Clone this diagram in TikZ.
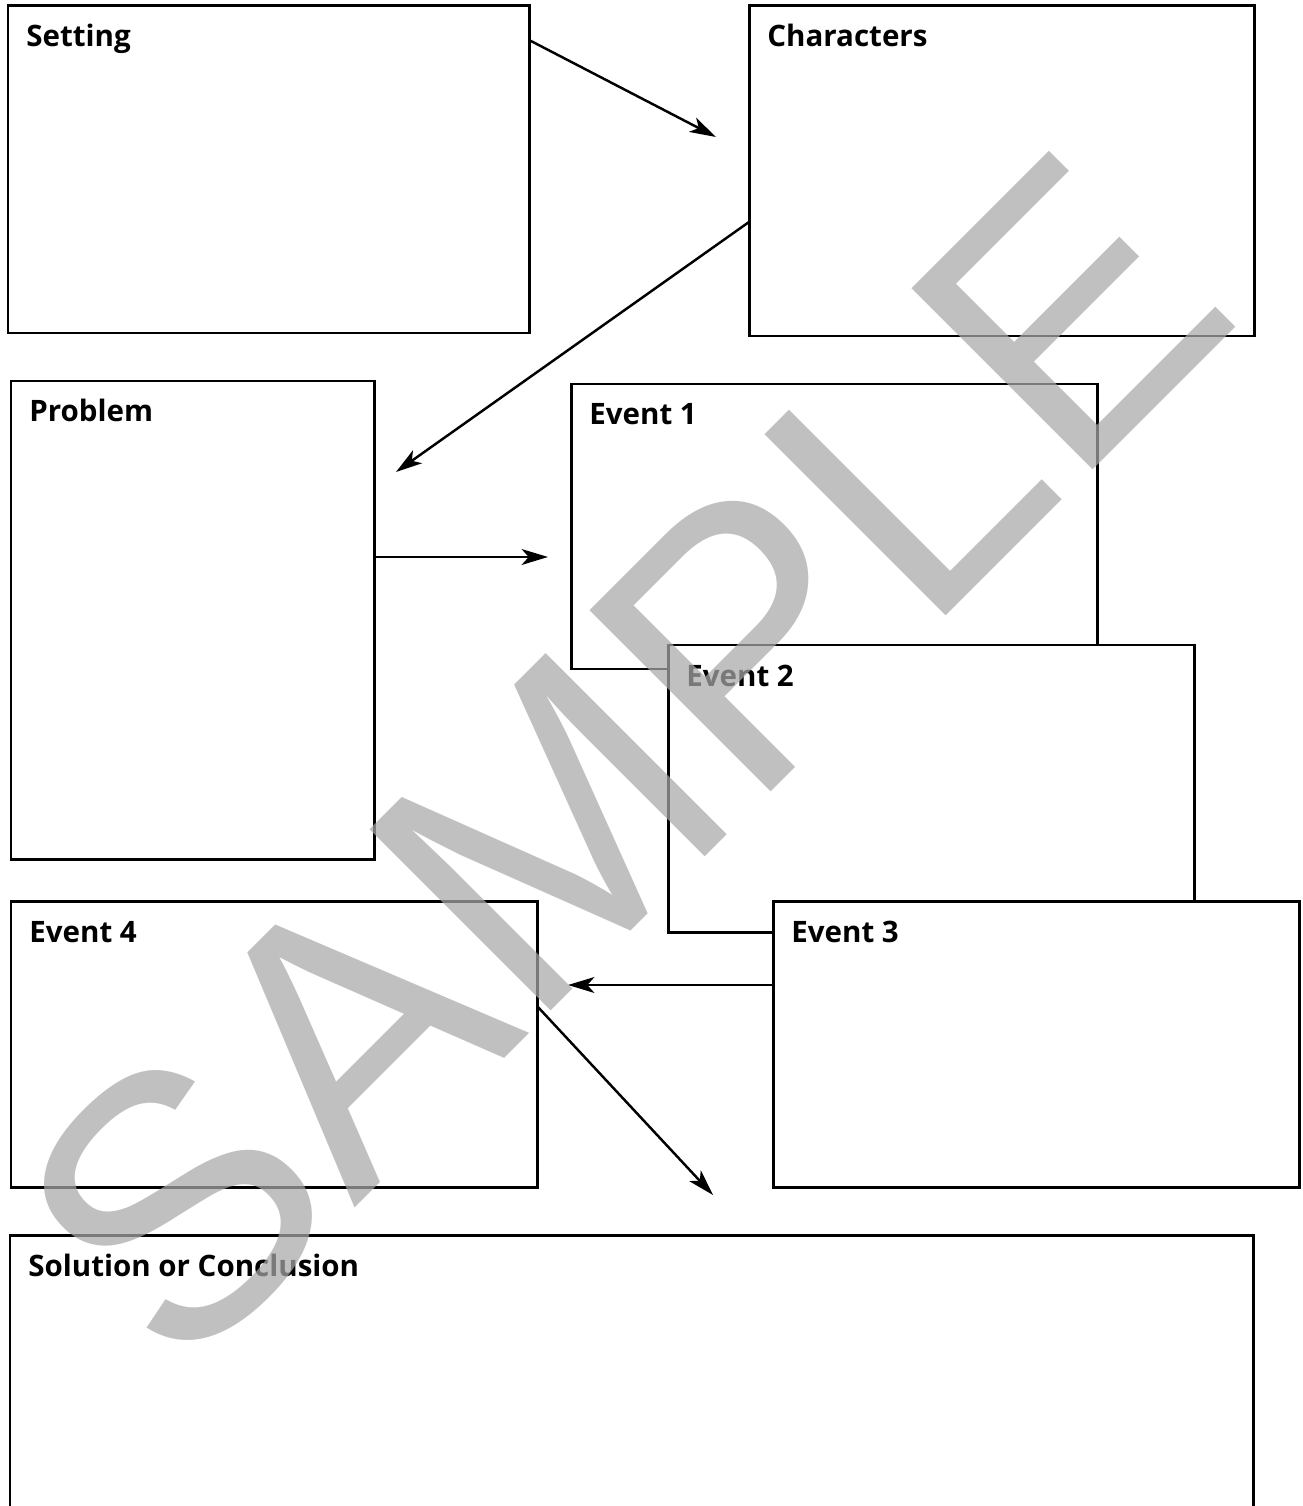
\documentclass[tikz,border=0pt]{standalone}
\usepackage{fontspec}
\setsansfont{Open Sans}
\newfontfamily\stampfont{Liberation Sans}
\usetikzlibrary{arrows.meta,fit,calc}

\definecolor{stampgray}{RGB}{168,168,168}

\tikzset{
  panel/.style={draw=black, line width=1.7pt, fill=white, inner sep=0pt, outer sep=0pt},
  panelname/.style={anchor=base west, inner sep=0pt,
    font=\sffamily\bfseries\fontsize{16.8}{20}\selectfont},
  link/.style={-{Stealth[length=15pt,width=9pt,inset=4pt]}, line width=1.4pt},
  stamp/.style={text=stampgray, text opacity=0.72, inner sep=0pt,
    font=\stampfont\fontsize{212}{212}\selectfont},
}

\begin{document}
\begin{tikzpicture}[x=0.02cm, y=-0.02cm, line join=miter]
  % Page frame (pixel units, y downwards)
  \clip (0,0) rectangle (1302,1506);
  \fill[white] (0,0) rectangle (1302,1506);

  % Story boxes, drawn back to front
  \node[panel, fit={(8,6) (529,333)}] (setting) {};
  \node[panel, fit={(749,6) (1254,336)}] (characters) {};
  \node[panel, fit={(11,381) (374,859)}] (problem) {};
  \node[panel, fit={(571,384) (1097,669)}] (event1) {};
  \node[panel, fit={(668,645) (1194,932)}] (event2) {};
  \node[panel, fit={(773,901) (1299,1187)}] (event3) {};
  \node[panel, fit={(11,901) (537,1187)}] (event4) {};
  \node[panel, fit={(10,1235) (1253,1540)}] (solution) {};

  % Box titles
  \foreach \n/\t in {setting/Setting, characters/Characters, problem/Problem,
      event1/Event 1, event2/Event 2, event3/Event 3, event4/Event 4,
      solution/Solution or Conclusion}
    \node[panelname] (\n-title) at ($(\n.north west)+(18,41)$) {\t};

  % Free ends of the arrows
  \coordinate (to-characters) at (716,137);
  \coordinate (to-problem) at (396,472);
  \coordinate (to-event1) at (548,557);
  \coordinate (to-event4) at (568,985);
  \coordinate (to-solution) at (713,1195);

  % Arrows between the boxes
  \draw[link] ($(setting.north east)+(0,34)$) -- (to-characters);
  \draw[link] ($(characters.north west)+(0,216)$) -- (to-problem);
  \draw[link] ($(problem.north east)+(0,176)$) -- (to-event1);
  \draw[link] ($(event3.north west)+(0,84)$) -- (to-event4);
  \draw[link] ($(event4.north east)+(0,105)$) -- (to-solution);

  % Watermark on top
  \node[stamp, rotate=45] (sample) at (622,759) {SAMPLE};
\end{tikzpicture}
\end{document}
